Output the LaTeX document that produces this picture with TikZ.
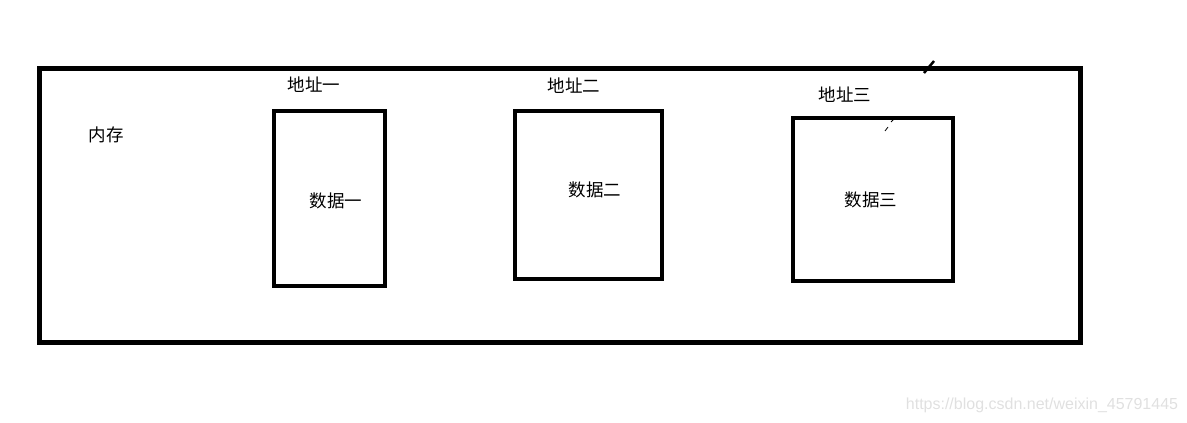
\documentclass[tikz,border=0pt]{standalone}
\usepackage{fontspec}
\newfontfamily\cjk{Noto Sans CJK SC}
\setmainfont{Liberation Sans}
\usetikzlibrary{positioning}
\begin{document}
\begin{tikzpicture}[x=1pt, y=-1pt,
			mem/.style={shape=rectangle,
				draw=black,
				line width=5pt,
				inner sep=0, outer sep=0},
			cell/.style={shape=rectangle,
				draw=black,
				line width=4pt,
				inner sep=0, outer sep=0},
			txt/.style={font=\cjk\fontsize{17.5}{20}\selectfont, inner sep=0}]
			
			\useasboundingbox (0, 0) rectangle (1187, 423);
			
			\node[mem, minimum width=1041pt, minimum height=274pt] at (560, 205.5) (M){};
			\node[cell, minimum width=111pt, minimum height=175pt] at (329.5, 198.5) (C1){};
			\node[cell, minimum width=147pt, minimum height=168pt] at (588.5, 195) (C2){};
			\node[cell, minimum width=160pt, minimum height=163pt] at (873, 199.5) (C3){};
			
			\node[txt] at (106, 135) (mem){内存};
			\node[txt] at (314, 85) (A1){地址一};
			\node[txt] at (574, 86) (A2){地址二};
			\node[txt] at (845, 95) (A3){地址三};
			\node[txt] at (336, 201) (D1){数据一};
			\node[txt] at (595, 190) (D2){数据二};
			\node[txt] at (871, 200) (D3){数据三};
			
			% stray pen marks
			\draw[line width=2.5pt] (924, 73) -- (934, 61);
			\draw[line width=0.8pt] (885, 131) -- (888, 127);
			\draw[line width=0.8pt] (891, 122) -- (894, 119);
			
			\node[font=\fontsize{16}{19}\selectfont, text=black!12, inner sep=0] at (1042, 405) (W){https://blog.csdn.net/weixin\_45791445};
		\end{tikzpicture}
\end{document}
